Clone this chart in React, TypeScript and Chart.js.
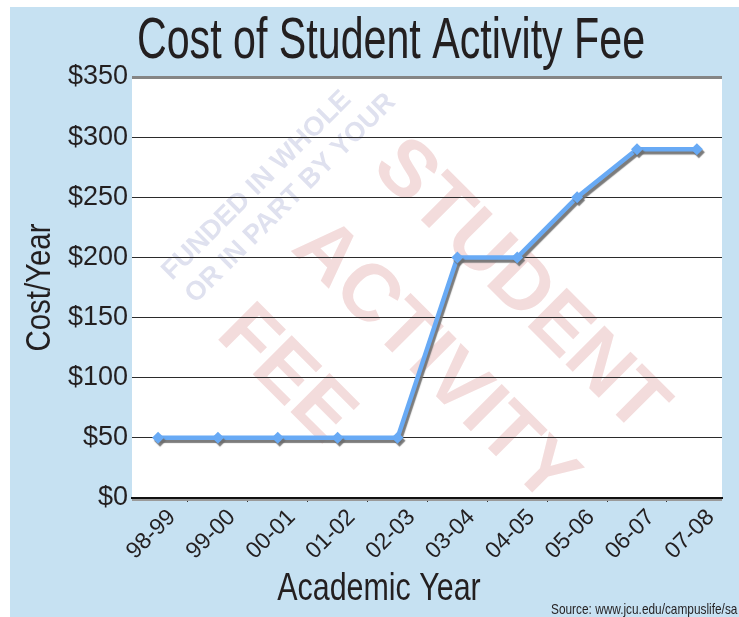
import React, { useEffect, useRef } from 'react';
import { Chart, registerables } from 'chart.js';

Chart.register(...registerables);

// ---- data ----
const categories = ['98-99', '99-00', '00-01', '01-02', '02-03', '03-04', '04-05', '05-06', '06-07', '07-08'];
const fees = [50, 50, 50, 50, 50, 200, 200, 250, 290, 290];
const yMin = 0;
const yMax = 350;
const yStep = 50;
const chartTitle = 'Cost of Student Activity Fee';
const xTitle = 'Academic Year';
const yTitle = 'Cost/Year';
const sourceNote = 'Source: www.jcu.edu/campuslife/sa';
const watermarkSmall = ['FUNDED IN WHOLE', 'OR IN PART BY YOUR'];
const watermarkBig = ['STUDENT', 'ACTIVITY', 'FEE'];

const SANS = '"Liberation Sans", Arial, Helvetica, sans-serif';
const INK = '#231f20';
const LINE_BLUE = '#68aaf5';

function drawText(ctx: CanvasRenderingContext2D, text: string, x: number, y: number, font: string, sx: number, rot: number, align: CanvasTextAlign) {
  ctx.save();
  ctx.translate(x, y);
  ctx.rotate(rot);
  ctx.scale(sx, 1);
  ctx.font = font;
  ctx.fillStyle = INK;
  ctx.textAlign = align;
  ctx.textBaseline = 'alphabetic';
  ctx.fillText(text, 0, 0);
  ctx.restore();
}

const backdropPlugin = {
  id: 'backdrop',
  beforeDraw(chart: any) {
    const { ctx, chartArea: a } = chart;
    const w = a.right - a.left;
    const h = a.bottom - a.top;
    ctx.save();
    ctx.fillStyle = '#ffffff';
    ctx.fillRect(a.left, a.top, w, h);
    ctx.beginPath();
    ctx.rect(a.left, a.top, w, h);
    ctx.clip();
    // small watermark
    ctx.save();
    ctx.translate(a.left + 40, a.top + 204);
    ctx.rotate(-Math.PI / 4);
    ctx.font = 'bold 27px ' + SANS;
    ctx.fillStyle = '#dfe1ef';
    watermarkSmall.forEach((t, i) => ctx.fillText(t, 0, i * 33));
    ctx.restore();
    // big watermark
    ctx.save();
    ctx.translate(a.left + 238, a.top + 92);
    ctx.rotate(Math.PI / 4);
    ctx.font = 'bold 80px ' + SANS;
    ctx.fillStyle = '#f3dcdc';
    watermarkBig.forEach((t, i) => ctx.fillText(t, i === 2 ? 8 : 0, i * 114));
    ctx.restore();
    ctx.restore();
  },
  afterDraw(chart: any) {
    const { ctx, chartArea: a } = chart;
    ctx.save();
    ctx.strokeStyle = '#9a9a9a';
    ctx.lineWidth = 2;
    ctx.beginPath();
    ctx.moveTo(a.left, a.bottom + 2);
    ctx.lineTo(a.right, a.bottom + 2);
    ctx.stroke();
    ctx.restore();
    drawText(ctx, chartTitle, 391, 58, '58px ' + SANS, 0.71, 0, 'center');
    drawText(ctx, xTitle, 379, 600, '39px ' + SANS, 0.78, 0, 'center');
    drawText(ctx, yTitle, 50, (a.top + a.bottom) / 2, '35px ' + SANS, 0.84, -Math.PI / 2, 'center');
    drawText(ctx, sourceNote, 551, 614, '15px ' + SANS, 0.79, 0, 'left');
  },
};

const shadowPlugin = {
  id: 'lineShadow',
  beforeDatasetDraw(chart: any) {
    const ctx = chart.ctx;
    ctx.save();
    ctx.shadowColor = 'rgba(110,110,110,0.9)';
    ctx.shadowOffsetX = 2;
    ctx.shadowOffsetY = 3;
    ctx.shadowBlur = 1;
  },
  afterDatasetDraw(chart: any) {
    chart.ctx.restore();
  },
};

export default function App() {
  const canvasRef = useRef<HTMLCanvasElement | null>(null);

  useEffect(() => {
    const canvas = canvasRef.current;
    if (!canvas) return;
    const chart = new Chart(canvas, {
      type: 'line',
      data: {
        datasets: [
          {
            label: 'Cost/Year',
            data: fees.map((v, i) => ({ x: i, y: v })),
            borderColor: LINE_BLUE,
            backgroundColor: LINE_BLUE,
            borderWidth: 4.5,
            tension: 0,
            pointStyle: 'rectRot',
            pointRadius: 6,
            pointBorderWidth: 0,
            pointBackgroundColor: LINE_BLUE,
            fill: false,
          },
        ],
      },
      options: {
        responsive: false,
        animation: false,
        devicePixelRatio: 1,
        layout: { padding: { top: 77, right: 17, bottom: 0, left: 0 } },
        plugins: {
          legend: { display: false },
          title: { display: false },
          tooltip: { enabled: false },
        },
        scales: {
          x: {
            type: 'linear',
            min: -0.435,
            max: 9.42,
            afterFit: (s: any) => { s.height = 119; },
            grid: {
              display: true,
              drawOnChartArea: false,
              drawTicks: true,
              tickLength: 4,
              offset: true,
              color: '#333',
            },
            border: { display: true, color: '#111', width: 2 },
            ticks: {
              stepSize: 1,
              includeBounds: false,
              autoSkip: false,
              maxRotation: 45,
              minRotation: 45,
              padding: 2,
              labelOffset: 14,
              color: INK,
              font: { family: SANS, size: 23 },
              callback: (v: any) => categories[v] ?? '',
            },
          },
          y: {
            min: yMin,
            max: yMax,
            afterFit: (s: any) => { s.width = 132; },
            grid: {
              drawTicks: false,
              color: (c: any) => (c.tick && c.tick.value === yMax ? '#858585' : c.tick && c.tick.value === yMin ? 'rgba(0,0,0,0)' : '#2b2b2b'),
              lineWidth: (c: any) => (c.tick && c.tick.value === yMax ? 3 : 1),
            },
            border: { display: false },
            ticks: {
              stepSize: yStep,
              padding: 4,
              color: INK,
              font: { family: SANS, size: 27 },
              callback: (v: any) => '$' + v,
            },
          },
        },
      },
      plugins: [backdropPlugin, shadowPlugin],
    });
    return () => chart.destroy();
  }, []);

  return (
    <div style={{ position: 'absolute', left: 0, top: 0, width: 739, height: 617, background: '#ffffff', overflow: 'hidden' }}>
      <div style={{ position: 'absolute', left: 10, top: 7, right: 0, bottom: 0, background: '#c6e1f2' }} />
      <canvas ref={canvasRef} width={739} height={617} style={{ position: 'absolute', left: 0, top: 0, width: 739, height: 617 }} />
    </div>
  );
}
